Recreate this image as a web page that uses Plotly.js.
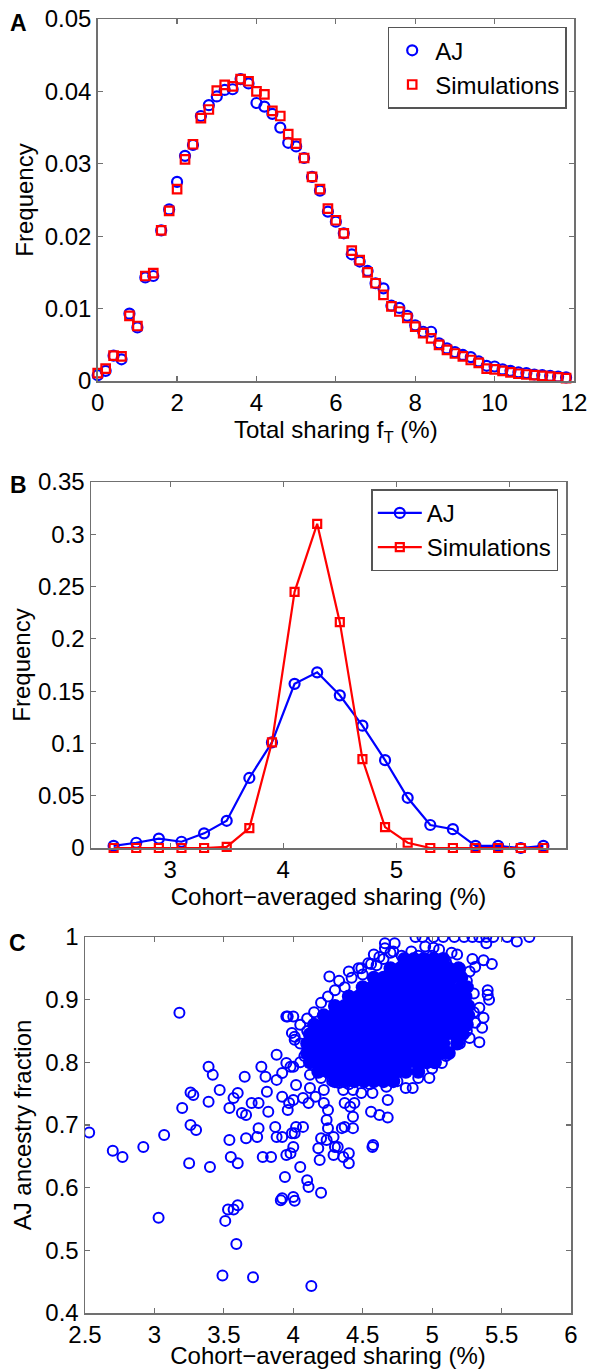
<!DOCTYPE html>
<html>
<head>
<meta charset="utf-8">
<script src="https://cdn.plot.ly/plotly-3.0.1.min.js"></script>
<style>html,body{margin:0;padding:0;background:#fff;}#chart{width:590px;height:1369px;}</style>
</head>
<body>
<div id="chart"></div>
<script>
// ---------- Panel A: total sharing distribution ----------
const xA = [0,0.2,0.4,0.6,0.8,1.0,1.2,1.4,1.6,1.8,2.0,2.2,2.4,2.6,2.8,3.0,3.2,3.4,3.6,3.8,
            4.0,4.2,4.4,4.6,4.8,5.0,5.2,5.4,5.6,5.8,6.0,6.2,6.4,6.6,6.8,7.0,7.2,7.4,7.6,7.8,
            8.0,8.2,8.4,8.6,8.8,9.0,9.2,9.4,9.6,9.8,10.0,10.2,10.4,10.6,10.8,11.0,11.2,11.4,11.6,11.8];
const ajA = [0.0008,0.0014,0.0035,0.0030,0.0093,0.0074,0.0143,0.0145,0.0208,0.0237,
             0.0275,0.0311,0.0326,0.0366,0.0381,0.0393,0.0402,0.0403,0.0417,0.0411,
             0.0384,0.0379,0.0369,0.0350,0.0329,0.0324,0.0308,0.0282,0.0263,0.0234,
             0.0220,0.0204,0.0175,0.0165,0.0152,0.0135,0.0128,0.0104,0.0101,0.0090,
             0.0077,0.0068,0.0068,0.0052,0.0045,0.0040,0.0036,0.0033,0.0027,0.0021,
             0.0020,0.0016,0.0014,0.0012,0.0011,0.0009,0.0008,0.0007,0.0006,0.0005];
const simA = [0.0011,0.0017,0.0035,0.0034,0.0090,0.0076,0.0145,0.0149,0.0208,0.0235,
              0.0265,0.0306,0.0327,0.0363,0.0375,0.0401,0.0409,0.0407,0.0417,0.0414,
              0.0400,0.0396,0.0373,0.0366,0.0341,0.0328,0.0308,0.0282,0.0265,0.0238,
              0.0222,0.0204,0.0180,0.0167,0.0150,0.0135,0.0119,0.0103,0.0096,0.0087,
              0.0075,0.0066,0.0059,0.0050,0.0043,0.0038,0.0034,0.0029,0.0025,0.0017,
              0.0016,0.0014,0.0012,0.0010,0.0009,0.0008,0.0007,0.0006,0.0005,0.0004];

// ---------- Panel B: cohort-averaged sharing distribution ----------
const xB = [2.5,2.7,2.9,3.1,3.3,3.5,3.7,3.9,4.1,4.3,4.5,4.7,4.9,5.1,5.3,5.5,5.7,5.9,6.1,6.3];
const ajB = [0.002,0.005,0.009,0.006,0.014,0.026,0.067,0.101,0.157,0.168,
             0.146,0.117,0.084,0.048,0.022,0.018,0.002,0.002,0.000,0.002];
const simB = [0.000,0.000,0.000,0.000,0.000,0.001,0.019,0.101,0.245,0.310,
              0.216,0.085,0.020,0.005,0.000,0.000,0.000,0.000,0.000,0.000];

// ---------- Panel C: individuals (cohort-averaged sharing vs AJ ancestry) ----------
// sparse, individually visible individuals
const cX = [2.53,2.70,2.77,2.92,3.07,3.03,3.18,3.20,3.26,3.28,3.26,3.30,3.25,3.39,3.42,3.39,3.40,3.47,3.49,3.51,
            3.53,3.57,3.60,3.59,3.71,3.54,3.54,3.55,3.60,3.57,3.60,3.63,3.65,3.66,3.66,3.70,3.74,3.75,3.75,3.77,
            3.78,3.80,3.81,3.82,3.84,3.87,3.88,3.88,3.92,3.92,3.94,3.95,3.92,3.91,4.01,3.96,3.98,3.97,3.92,3.88,
            3.95,3.98,3.99,4.00,3.99,3.96,4.01,4.02,4.13,
            4.00,4.01,4.00,4.02,4.00,4.07,4.11,4.22,4.25,4.24,4.25,4.24,4.20,4.07,4.01,4.00,4.05,4.10,4.11,4.20,
            4.18,4.19,4.29,4.35,4.37,4.43,4.43,4.41,4.44,4.37,4.30,4.29,4.36,4.40,4.40,4.32,4.56,4.62,4.68,4.68,
            4.57,4.575,4.57,4.49,4.36,4.43,4.22,4.12,4.16,4.33,4.67,4.81,4.86,4.98,5.07,5.27,5.34,5.36,5.31,5.37,
            5.34,5.41,5.40,5.40,
            3.95,4.26,4.33,4.37,4.49,4.56,4.66,4.73,4.72,4.88,4.93,5.01,5.08,5.16,5.23,5.29,5.34,5.39,5.44,5.54,
            5.70,5.61,5.39,5.43,5.37,5.31,5.29,5.14,4.85,5.01,4.82,
            4.05,4.10,4.15,4.20,4.25,4.30,4.42,4.50,4.60,4.65,4.10,4.05,4.08,4.05,4.12,4.20,4.28,4.40,4.55,4.75,
            4.90,5.00,5.10,5.20,5.25,5.30,5.30,5.25,5.20,5.10,5.00,4.90,4.78,
            4.40,4.47,4.54,4.62,4.70,4.95,5.05,5.18,5.27,4.58,4.66];
const cY = [0.688,0.659,0.649,0.665,0.684,0.552,0.879,0.727,0.752,0.748,0.700,0.692,0.639,0.793,0.780,0.737,0.633,0.756,0.460,0.547,
            0.565,0.565,0.572,0.510,0.457,0.676,0.727,0.649,0.639,0.743,0.751,0.719,0.777,0.716,0.679,0.735,0.681,0.735,0.695,0.793,
            0.649,0.777,0.753,0.721,0.649,0.697,0.681,0.772,0.745,0.681,0.617,0.652,0.583,0.580,0.579,0.873,0.655,0.735,0.783,0.812,
            0.799,0.793,0.847,0.585,0.687,0.724,0.836,0.697,0.443,
            0.873,0.841,0.793,0.764,0.740,0.743,0.735,0.735,0.724,0.708,0.695,0.676,0.679,0.697,0.687,0.665,0.633,0.612,0.601,0.592,
            0.663,0.644,0.681,0.695,0.697,0.695,0.713,0.729,0.735,0.735,0.665,0.652,0.649,0.655,0.639,0.665,0.721,0.716,0.712,0.740,
            0.665,0.668,0.751,0.751,0.756,0.756,0.756,0.759,0.745,0.767,0.761,0.759,0.759,0.775,0.799,0.839,0.832,0.855,0.863,0.871,
            0.887,0.900,0.915,0.908,
            0.873,0.937,0.930,0.920,0.950,0.957,0.990,0.990,0.977,1.000,1.000,1.000,1.000,1.000,1.000,1.000,1.000,1.000,1.000,1.000,
            1.000,0.993,0.990,0.957,0.963,0.952,0.965,0.975,0.977,0.983,0.963,
            0.860,0.870,0.880,0.895,0.905,0.915,0.935,0.940,0.955,0.965,0.850,0.830,0.810,0.800,0.780,0.775,0.770,0.765,0.765,0.770,
            0.775,0.790,0.810,0.830,0.850,0.880,0.910,0.930,0.950,0.960,0.970,0.970,0.970,
            0.945,0.950,0.958,0.968,0.975,0.985,0.980,0.972,0.945,0.972,0.982];
// densely overlapping individuals in the main cluster (positions read row by row)
const coreX = [4.80,4.87,4.94,5.01,5.08,
               4.70,4.77,4.84,4.91,4.98,5.05,5.12,5.19,
               4.58,4.65,4.72,4.79,4.86,4.93,5.00,5.07,5.14,5.21,
               4.50,4.57,4.64,4.71,4.78,4.85,4.92,4.99,5.06,5.13,5.21,5.25,
               4.40,4.47,4.54,4.61,4.68,4.75,4.82,4.89,4.96,5.03,5.10,5.17,5.24,
               4.30,4.37,4.44,4.51,4.58,4.65,4.72,4.79,4.86,4.93,5.00,5.07,5.14,5.20,5.26,
               4.22,4.29,4.36,4.43,4.50,4.57,4.64,4.71,4.78,4.85,4.92,4.99,5.06,5.13,5.20,5.26,
               4.15,4.22,4.29,4.36,4.43,4.50,4.57,4.64,4.71,4.78,4.85,4.92,4.99,5.06,5.13,5.19,5.25,
               4.12,4.19,4.26,4.33,4.40,4.47,4.54,4.61,4.68,4.75,4.82,4.89,4.96,5.03,5.10,5.16,5.22,
               4.10,4.17,4.24,4.31,4.38,4.45,4.52,4.59,4.66,4.73,4.80,4.87,4.94,5.01,5.08,5.18,
               4.10,4.17,4.24,4.31,4.38,4.45,4.52,4.59,4.66,4.73,4.80,4.87,4.94,5.01,5.06,5.12,
               4.12,4.19,4.26,4.33,4.40,4.47,4.54,4.61,4.68,4.75,4.82,4.89,4.96,5.02,
               4.18,4.25,4.32,4.39,4.46,4.53,4.60,4.67,4.74,4.81,4.90,
               4.30,4.37,4.44,4.51,4.58,4.65,4.72];
const coreY = [0.965,0.965,0.965,0.965,0.965,
               0.950,0.950,0.950,0.950,0.950,0.950,0.950,0.950,
               0.935,0.935,0.935,0.935,0.935,0.935,0.935,0.935,0.935,0.935,
               0.920,0.920,0.920,0.920,0.920,0.920,0.920,0.920,0.920,0.920,0.920,0.920,
               0.905,0.905,0.905,0.905,0.905,0.905,0.905,0.905,0.905,0.905,0.905,0.905,0.905,
               0.890,0.890,0.890,0.890,0.890,0.890,0.890,0.890,0.890,0.890,0.890,0.890,0.890,0.890,0.890,
               0.875,0.875,0.875,0.875,0.875,0.875,0.875,0.875,0.875,0.875,0.875,0.875,0.875,0.875,0.875,0.875,
               0.860,0.860,0.860,0.860,0.860,0.860,0.860,0.860,0.860,0.860,0.860,0.860,0.860,0.860,0.860,0.860,0.860,
               0.845,0.845,0.845,0.845,0.845,0.845,0.845,0.845,0.845,0.845,0.845,0.845,0.845,0.845,0.845,0.845,0.845,
               0.830,0.830,0.830,0.830,0.830,0.830,0.830,0.830,0.830,0.830,0.830,0.830,0.830,0.830,0.830,0.830,
               0.815,0.815,0.815,0.815,0.815,0.815,0.815,0.815,0.815,0.815,0.815,0.815,0.815,0.815,0.815,0.815,
               0.800,0.800,0.800,0.800,0.800,0.800,0.800,0.800,0.800,0.800,0.800,0.800,0.800,0.800,
               0.785,0.785,0.785,0.785,0.785,0.785,0.785,0.785,0.785,0.785,0.785,
               0.770,0.770,0.770,0.770,0.770,0.770,0.770];

const BLUE = '#0000ff', RED = '#ff0000';
const FONT = 'Liberation Sans, Arial, Helvetica, sans-serif';
const W = 590, H = 1369;

function ax(extra) {
  return Object.assign({
    showline: true, linecolor: '#707070', linewidth: 1.5, mirror: 'ticks',
    ticks: 'inside', ticklen: 5, tickwidth: 1.2, tickcolor: '#707070',
    showgrid: false, zeroline: false, tickfont: {family: FONT, size: 24, color: '#000'},
    fixedrange: true
  }, extra);
}
function px2x(px) { return px / W; }
function px2y(py) { return 1 - py / H; }

const traces = [
  {x: xA, y: ajA, name: 'AJ', type: 'scatter', mode: 'markers', xaxis: 'x', yaxis: 'y', legend: 'legend', cliponaxis: false,
   marker: {symbol: 'circle-open', size: 10, color: BLUE, line: {width: 2.2, color: BLUE}}},
  {x: xA, y: simA, name: 'Simulations', type: 'scatter', mode: 'markers', xaxis: 'x', yaxis: 'y', legend: 'legend', cliponaxis: false,
   marker: {symbol: 'square-open', size: 8.5, color: RED, line: {width: 2.2, color: RED}}},
  {x: xB, y: ajB, name: 'AJ', type: 'scatter', mode: 'lines+markers', xaxis: 'x2', yaxis: 'y2', legend: 'legend2', cliponaxis: false,
   line: {color: BLUE, width: 2.2}, marker: {symbol: 'circle-open', size: 10, color: BLUE, line: {width: 2.2, color: BLUE}}},
  {x: xB, y: simB, name: 'Simulations', type: 'scatter', mode: 'lines+markers', xaxis: 'x2', yaxis: 'y2', legend: 'legend2', cliponaxis: false,
   line: {color: RED, width: 2.2}, marker: {symbol: 'square-open', size: 8, color: RED, line: {width: 2.2, color: RED}}},
  {x: coreX, y: coreY, name: 'AJ individuals (dense)', type: 'scatter', mode: 'markers', xaxis: 'x3', yaxis: 'y3', showlegend: false,
   marker: {symbol: 'circle', size: 14, color: BLUE, line: {width: 0}}},
  {x: cX, y: cY, name: 'AJ individuals', type: 'scatter', mode: 'markers', xaxis: 'x3', yaxis: 'y3', showlegend: false,
   marker: {symbol: 'circle-open', size: 10, color: BLUE, line: {width: 2, color: BLUE}}}
];

const layout = {
  width: W, height: H, margin: {l: 0, r: 0, t: 0, b: 0},
  paper_bgcolor: '#fff', plot_bgcolor: '#fff',
  font: {family: FONT, size: 24, color: '#000'},
  xaxis: ax({domain: [px2x(97.7), px2x(574)], anchor: 'y', range: [0, 12], tick0: 0, dtick: 2,
    title: {text: 'Total sharing f<sub>T</sub> (%)', standoff: 0, font: {family: FONT, size: 24}}}),
  yaxis: ax({domain: [px2y(381), px2y(19)], anchor: 'x', range: [0, 0.05], tick0: 0, dtick: 0.01,
    title: {text: 'Frequency', standoff: 4, font: {family: FONT, size: 24}}}),
  xaxis2: ax({domain: [px2x(91), px2x(566)], anchor: 'y2', range: [2.3, 6.5], tick0: 0, dtick: 1,
    title: {text: 'Cohort\u2212averaged sharing (%)', standoff: 0, font: {family: FONT, size: 24}}}),
  yaxis2: ax({domain: [px2y(848), px2y(482)], anchor: 'x2', range: [0, 0.35], tick0: 0, dtick: 0.05,
    title: {text: 'Frequency', standoff: 0, font: {family: FONT, size: 24}}}),
  xaxis3: ax({domain: [px2x(85), px2x(571)], anchor: 'y3', range: [2.5, 6], tick0: 0, dtick: 0.5,
    title: {text: 'Cohort\u2212averaged sharing (%)', standoff: 0, font: {family: FONT, size: 24}}}),
  yaxis3: ax({domain: [px2y(1313), px2y(937)], anchor: 'x3', range: [0.4, 1], tick0: 0, dtick: 0.1,
    title: {text: 'AJ ancestry fraction', standoff: 7, font: {family: FONT, size: 24}}}),
  legend: {x: px2x(566.7), xanchor: 'right', y: px2y(26.7), yanchor: 'top', bgcolor: '#fff',
    bordercolor: '#555', borderwidth: 1.5, itemwidth: 36, font: {family: FONT, size: 24, color: '#000'}},
  legend2: {x: px2x(558.3), xanchor: 'right', y: px2y(489.3), yanchor: 'top', bgcolor: '#fff',
    bordercolor: '#555', borderwidth: 1.5, itemwidth: 44, font: {family: FONT, size: 24, color: '#000'}},
  annotations: [
    {text: '<b>A</b>', x: px2x(18), y: px2y(23), xref: 'paper', yref: 'paper', xanchor: 'center', yanchor: 'middle', showarrow: false, font: {family: FONT, size: 23}},
    {text: '<b>B</b>', x: px2x(18), y: px2y(485), xref: 'paper', yref: 'paper', xanchor: 'center', yanchor: 'middle', showarrow: false, font: {family: FONT, size: 23}},
    {text: '<b>C</b>', x: px2x(17), y: px2y(943), xref: 'paper', yref: 'paper', xanchor: 'center', yanchor: 'middle', showarrow: false, font: {family: FONT, size: 23}}
  ]
};

Plotly.newPlot('chart', traces, layout, {displayModeBar: false, staticPlot: true});
</script>
</body>
</html>
